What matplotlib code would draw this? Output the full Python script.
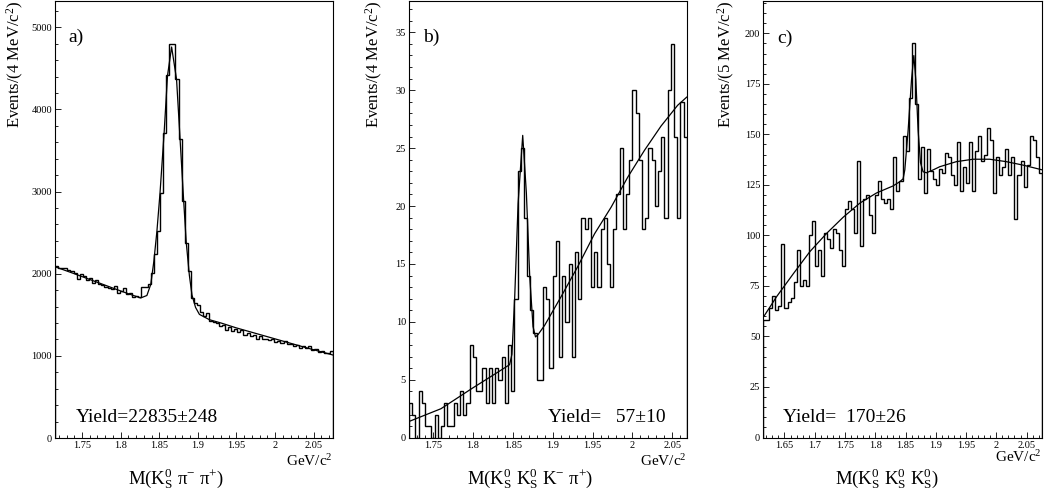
import numpy as np
import matplotlib
matplotlib.use("Agg")
import matplotlib.pyplot as plt
from matplotlib.ticker import MultipleLocator, FuncFormatter

plt.rcParams['font.family'] = ['Liberation Serif', 'DejaVu Serif']
plt.rcParams['mathtext.fontset'] = 'custom'
plt.rcParams['mathtext.rm'] = 'Liberation Serif'
plt.rcParams['mathtext.it'] = 'Liberation Serif:italic'
plt.rcParams['mathtext.bf'] = 'Liberation Serif:bold'

# %% data
# a) K0S pi- pi+ , 4 MeV bins from 1.715 to 2.075
range_a = (1.715, 2.075)
counts_a = [2092, 2070, 2064, 2072, 2044, 2031, 2003, 1930, 1991, 1975,
            1922, 1950, 1889, 1922, 1869, 1861, 1841, 1821, 1808, 1849,
            1768, 1788, 1821, 1747, 1768, 1719, 1731, 1720, 1833, 1838,
            1880, 2003, 2234, 2515, 2980, 3710, 4414, 4800, 4800, 4365,
            3636, 2889, 2378, 2030, 1700, 1640, 1620, 1530, 1480, 1520,
            1420, 1410, 1400, 1360, 1380, 1320, 1350, 1300, 1330, 1290,
            1310, 1260, 1280, 1240, 1260, 1200, 1240, 1200, 1210, 1190,
            1210, 1170, 1180, 1160, 1180, 1140, 1150, 1120, 1130, 1090,
            1120, 1090, 1120, 1070, 1080, 1050, 1060, 1030, 1040, 1060]
fit_a_x = [1.715, 1.74, 1.76, 1.78, 1.80, 1.815, 1.826, 1.834, 1.839, 1.843,
           1.847, 1.851, 1.8563, 1.8607, 1.866, 1.8724, 1.877, 1.8816, 1.885,
           1.889, 1.8924, 1.897, 1.902, 1.915, 1.93, 1.95, 1.98, 2.01, 2.04, 2.075]
fit_a_y = [2085, 2000, 1930, 1860, 1790, 1740, 1705, 1735, 1870, 2150,
           2520, 2984, 3714, 4412, 4760, 4367, 3634, 2891, 2376,
           1980, 1740, 1590, 1505, 1440, 1400, 1340, 1260, 1180, 1100, 1010]

# b) K0S K0S K- pi+ , 4 MeV bins from 1.72 to 2.068
range_b = (1.72, 2.068)
counts_b = [3, 2, 0, 4, 3, 1, 1, 0, 2, 0, 1,
            3, 1, 1, 3, 2, 4, 2, 3,
            8, 7, 4, 4, 6, 3, 6, 3, 6, 5, 7, 3, 8, 4, 12, 23,
            25, 19, 14, 11, 9, 5, 5,
            13, 12, 6, 14, 17, 7, 14, 10, 15, 7, 16, 12, 19, 18, 19, 13, 16,
            13, 18, 19, 15, 13, 18,
            21, 25, 18, 21, 24, 30, 28, 24, 18, 19, 25, 24, 20, 23, 26, 19,
            30, 34, 26, 19, 29, 26]
fit_b_x = [1.72, 1.76, 1.80, 1.83, 1.846, 1.849, 1.8525, 1.8567, 1.8625,
           1.8671, 1.8713, 1.8754, 1.8785, 1.8817, 1.89, 1.9108, 1.9317,
           1.9525, 1.9733, 1.9942, 2.015, 2.0358, 2.0567, 2.068]
fit_b_y = [1.4, 2.5, 4.3, 5.6, 6.3, 7.2, 12.2, 20.2, 26.1, 21.1, 13.9, 9.6,
           8.7, 8.9, 9.7, 12.2, 14.8, 17.6, 19.9, 22.5, 24.8, 26.9, 28.7, 29.4]

# c) K0S K0S K0S , 5 MeV bins from 1.615 to 2.075
range_c = (1.615, 2.075)
counts_c = [58, 58, 64, 70, 63, 65, 96, 64, 67, 69,
            77, 93, 75, 78, 75, 100, 107, 85, 93, 80,
            101, 98, 94, 103, 101, 93, 85, 113, 117, 113,
            101, 137, 95, 118, 120, 110, 101, 120, 127, 118,
            116, 118, 113, 139, 122, 127, 149, 142, 168, 195,
            165, 128, 144, 121, 143, 132, 128, 125, 133, 131,
            141, 139, 130, 125, 146, 122, 134, 126, 146, 122,
            142, 149, 137, 140, 153, 147, 121, 139, 130, 134,
            143, 130, 139, 108, 130, 137, 124, 135, 149, 147,
            139, 131]
fit_c_x = [1.615, 1.637, 1.6645, 1.692, 1.7196, 1.747, 1.7746, 1.802, 1.8295,
           1.8406, 1.846, 1.8488, 1.8543, 1.8599, 1.8637, 1.867, 1.8708,
           1.8747, 1.879, 1.8846, 1.8955, 1.9066, 1.934, 1.9615, 1.989,
           2.0166, 2.044, 2.075]
fit_c_y = [59.5, 69.7, 81, 92, 101, 109, 116, 121, 124.5, 126.6, 128, 132.4,
           152, 177, 189, 177, 152, 136, 131.5, 131, 132.4, 134, 136.5,
           137.7, 137.7, 136.5, 134.8, 132.5]

labels = ["a)", "b)", "c)"]
yields = ["Yield=22835±248", "Yield=   57±10", "Yield=  170±26"]
xtitles = [r"M(K$^{0}_{\mathrm{S}}$ π$^{-}$ π$^{+}$)",
           r"M(K$^{0}_{\mathrm{S}}$ K$^{0}_{\mathrm{S}}$ K$^{-}$ π$^{+}$)",
           r"M(K$^{0}_{\mathrm{S}}$ K$^{0}_{\mathrm{S}}$ K$^{0}_{\mathrm{S}}$)"]
ytitles = [r"Events/(4 MeV/c$^{2}$)", r"Events/(4 MeV/c$^{2}$)",
           r"Events/(5 MeV/c$^{2}$)"]

# %% layout (pixels of the 1044x495 picture)
W, H = 1044, 495
fig = plt.figure(figsize=(10.44, 4.95), dpi=100)


def fx(x):
    return x / W


def fy(y):
    return 1 - y / H


def make_axes(l, t, r, b):
    return fig.add_axes([fx(l), fy(b), fx(r) - fx(l), fy(t) - fy(b)])


panels = [
    dict(box=(55, 1, 333, 438), rng=range_a, counts=counts_a, fx_=fit_a_x, fy_=fit_a_y,
         ylim=5320, ymaj=1000, ymin=200, lab=(68, 37), yl=(76, 418), xt=176, gev=(333, 461), yt=15),
    dict(box=(409, 1, 686.7, 437.7), rng=range_b, counts=counts_b, fx_=fit_b_x, fy_=fit_b_y,
         ylim=37.7, ymaj=5, ymin=1, lab=(423, 37), yl=(548, 418), xt=530, gev=(686.7, 461), yt=374),
    dict(box=(763.3, 1, 1041.7, 437.5), rng=range_c, counts=counts_c, fx_=fit_c_x, fy_=fit_c_y,
         ylim=216, ymaj=25, ymin=5, lab=(777, 38), yl=(783, 418), xt=887, gev=(1041.7, 457), yt=726),
]

for i, p in enumerate(panels):
    ax = make_axes(*p["box"])
    n = len(p["counts"])
    edges = np.linspace(p["rng"][0], p["rng"][1], n + 1)
    ax.stairs(p["counts"], edges, color="black", lw=1.0)
    ax.plot(p["fx_"], p["fy_"], color="black", lw=0.9)
    ax.set_xlim(p["rng"])
    ax.set_ylim(0, p["ylim"])

    ax.xaxis.set_major_locator(MultipleLocator(0.05))
    ax.xaxis.set_minor_locator(MultipleLocator(0.01))
    ax.yaxis.set_major_locator(MultipleLocator(p["ymaj"]))
    ax.yaxis.set_minor_locator(MultipleLocator(p["ymin"]))
    ax.xaxis.set_major_formatter(FuncFormatter(lambda v, pos: f"{v:g}"))
    ax.yaxis.set_major_formatter(FuncFormatter(lambda v, pos: f"{v:g}"))
    ax.tick_params(which="both", direction="in", top=False, right=False,
                   labelsize=7.5, width=0.6, pad=2.2)
    ax.tick_params(which="major", length=4.5)
    ax.tick_params(which="minor", length=2.3)
    for s in ax.spines.values():
        s.set_linewidth(0.8)

    fig.text(fx(p["lab"][0]), fy(p["lab"][1]), labels[i], fontsize=14,
             ha="left", va="center")
    fig.text(fx(p["yl"][0]), fy(p["yl"][1]), yields[i], fontsize=14,
             ha="left", va="center")
    fig.text(fx(p["xt"]), fy(479), xtitles[i], fontsize=13.5,
             ha="center", va="center")
    fig.text(fx(p["gev"][0]), fy(p["gev"][1]), r"GeV/c$^{2}$", fontsize=11,
             ha="right", va="center")
    fig.text(fx(p["yt"]), fy(1), ytitles[i], fontsize=12, rotation=90,
             ha="center", va="top")

fig.savefig("out.png", dpi=100)
